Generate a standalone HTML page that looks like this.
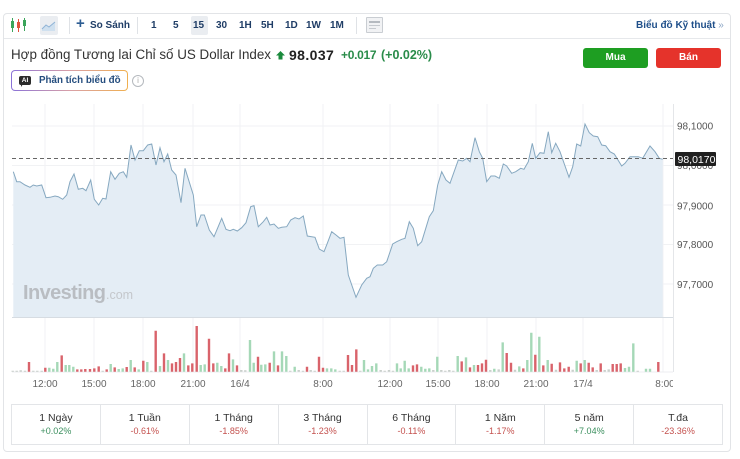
<!DOCTYPE html>
<html><head><meta charset="utf-8">
<style>
*{margin:0;padding:0;box-sizing:border-box}
body{width:740px;height:459px;background:#fff;position:relative;overflow:hidden;font-family:"Liberation Sans","Noto Sans CJK SC",sans-serif;color:#333}
.abs{position:absolute;white-space:nowrap}
.card{position:absolute;left:3px;top:13px;width:728px;height:439px;border:1px solid #e2e4e7;border-radius:4px}
.tb{font-weight:bold;font-size:10px;color:#1f3d66;top:20px}
.sep{position:absolute;width:1px;height:17px;top:17px;background:#dfe2e6}
.btn{position:absolute;top:48px;width:65px;height:20px;border-radius:3px;color:#fff;font-weight:bold;font-size:10px;text-align:center;line-height:20px}
.perf{position:absolute;left:11px;top:404px;width:712px;height:41px;border:1px solid #e3e5e8;display:flex}
.perf div{flex:1;border-left:1px solid #e3e5e8;text-align:center}
.perf div:first-child{border-left:none}
.perf b{display:block;font-weight:normal;font-size:10.5px;color:#333;margin-top:7px;line-height:12px}
.perf i{display:block;font-style:normal;font-size:9px;margin-top:2px;line-height:11px}
.g{color:#3b8f5e}.r{color:#c4514e}
</style></head><body>
<div class="card"></div>
<div class="abs" style="left:4px;top:38px;width:726px;height:1px;background:#e6e8eb"></div>

<!-- toolbar -->
<svg class="abs" style="left:10px;top:16px" width="18" height="18" viewBox="0 0 18 18">
<line x1="2.5" y1="2" x2="2.5" y2="16" stroke="#3aa55a" stroke-width="1"/><rect x="1" y="5" width="3" height="7" fill="#3aa55a"/>
<line x1="8.5" y1="3" x2="8.5" y2="16" stroke="#e0533d" stroke-width="1"/><rect x="7" y="6" width="3" height="6" fill="#e0533d"/>
<line x1="14.5" y1="2" x2="14.5" y2="15" stroke="#3aa55a" stroke-width="1"/><rect x="13" y="4" width="3" height="6" fill="#3aa55a"/>
</svg>
<div class="abs" style="left:40px;top:16px;width:18px;height:19px;background:#eaedf1;border-radius:2px"></div>
<svg class="abs" style="left:41px;top:18px" width="16" height="15" viewBox="0 0 16 15"><path d="M1,11 L5,7 L8,9 L14,4 L14,13 L1,13Z" fill="#cfe0ef"/><path d="M1,11 L5,7 L8,9 L14,4" fill="none" stroke="#8fb3d6" stroke-width="1"/></svg>
<div class="sep" style="left:69px"></div>
<div class="abs" style="left:76px;top:15px;font-size:15px;font-weight:bold;color:#2d5d93;line-height:18px">+</div>
<div class="abs tb" style="left:90px">So Sánh</div>
<div class="sep" style="left:137px"></div>
<div class="abs tb" style="left:151px">1</div>
<div class="abs tb" style="left:173px">5</div>
<div class="abs" style="left:191px;top:16px;width:17px;height:19px;background:#eaedf1;border-radius:2px"></div>
<div class="abs tb" style="left:193px">15</div>
<div class="abs tb" style="left:216px">30</div>
<div class="abs tb" style="left:239px">1H</div>
<div class="abs tb" style="left:261px">5H</div>
<div class="abs tb" style="left:285px">1D</div>
<div class="abs tb" style="left:306px">1W</div>
<div class="abs tb" style="left:330px">1M</div>
<div class="sep" style="left:356px"></div>
<div class="abs" style="left:366px;top:17px;width:17px;height:16px;border:1px solid #c9cdd2;background:#f1f2f4;border-radius:1px"></div>
<div class="abs" style="left:369px;top:21px;width:11px;height:2px;background:#b5bac0"></div>
<div class="abs" style="left:369px;top:25px;width:11px;height:1px;background:#c5c9ce"></div>
<div class="abs" style="left:369px;top:28px;width:7px;height:1px;background:#c5c9ce"></div>
<div class="abs" style="left:636px;top:20px;font-size:10px;font-weight:bold;color:#1f4f8a">Biểu đồ Kỹ thuật <span style="color:#8aa4c4;font-weight:normal">»</span></div>

<!-- title -->
<div class="abs" style="left:11px;top:47px;font-size:13.4px;color:#333;line-height:16px">Hợp đồng Tương lai Chỉ số US Dollar Index</div>
<svg class="abs" style="left:276px;top:51px" width="9" height="9" viewBox="0 0 9 9"><path d="M4.5,0 L9,4.5 L6.5,4.5 L6.5,8.5 L2.5,8.5 L2.5,4.5 L0,4.5Z" fill="#1a8a3c"/></svg>
<div class="abs" style="left:289px;top:47px;font-size:14px;font-weight:bold;color:#222;line-height:16px;letter-spacing:0.4px">98.037</div>
<div class="abs" style="left:341px;top:48px;font-size:12px;font-weight:bold;color:#2a8c4a;line-height:15px;letter-spacing:-0.3px">+0.017</div>
<div class="abs" style="left:381px;top:48px;font-size:12.5px;font-weight:bold;color:#2a8c4a;line-height:15px">(+0.02%)</div>
<div class="btn" style="left:583px;background:#1e9e22">Mua</div>
<div class="btn" style="left:656px;background:#e5332b">Bán</div>

<!-- AI button -->
<div class="abs" style="left:11px;top:70px;width:117px;height:21px;border:1px solid transparent;border-radius:4px;background:linear-gradient(#fff,#fff) padding-box,linear-gradient(90deg,#8a72d8,#d8a0a8,#f0b050) border-box"></div>
<div class="abs" style="left:19px;top:76px;width:12px;height:9px;background:#2b2b2b;border-radius:2px;color:#fff;font-size:6.5px;font-weight:bold;text-align:center;line-height:9px">AI</div>
<div class="abs" style="left:21px;top:84px;width:0;height:0;border-left:2px solid #2b2b2b;border-bottom:3px solid transparent"></div>
<div class="abs" style="left:39px;top:75px;font-size:9.8px;font-weight:bold;color:#244d7e;line-height:12px">Phân tích biểu đồ</div>
<div class="abs" style="left:132px;top:75px;width:12px;height:12px;border:1px solid #b5b9be;border-radius:50%;color:#aaa;font-size:8px;text-align:center;line-height:10px">i</div>

<!-- chart -->
<svg class="abs" style="left:0;top:0" width="740" height="459" viewBox="0 0 740 459">
<g stroke="#f1f2f4" stroke-width="1">
<line x1="12" y1="126" x2="673" y2="126"/><line x1="12" y1="165.5" x2="673" y2="165.5"/><line x1="12" y1="205" x2="673" y2="205"/><line x1="12" y1="244.5" x2="673" y2="244.5"/><line x1="12" y1="284" x2="673" y2="284"/>
<line x1="45" y1="104" x2="45" y2="372"/><line x1="94" y1="104" x2="94" y2="372"/><line x1="143" y1="104" x2="143" y2="372"/><line x1="193" y1="104" x2="193" y2="372"/><line x1="240" y1="104" x2="240" y2="372"/><line x1="323" y1="104" x2="323" y2="372"/><line x1="390" y1="104" x2="390" y2="372"/><line x1="438" y1="104" x2="438" y2="372"/><line x1="487" y1="104" x2="487" y2="372"/><line x1="536" y1="104" x2="536" y2="372"/><line x1="583" y1="104" x2="583" y2="372"/><line x1="663" y1="104" x2="663" y2="372"/>
</g>
<path d="M13.3,317 L13.3,171.7 16.7,181.7 20,181.7 25,185 30,187.3 33.3,185 36.7,186 41.7,185 46,197.7 50,197.3 55,196 58.3,196.7 62.7,199.3 66.7,195 70,181.7 74,174 78.3,189.3 82.7,188.3 86,190.7 90.7,180 94.3,199.3 98.7,205 102.7,198.3 106,199 110.7,171.7 115,179.3 119.3,173.3 123.3,171.7 126.7,177.3 131,145 135,160 139.3,150.7 143.3,150.7 147.7,145 151.7,144 156,165 160,147.7 164,161.7 167.7,154 171.7,170 176,175 181,202.7 185,168.3 193.3,195 196.7,226.7 201,215 204.3,215 209.3,230 214,236.7 221.7,218.3 226,229.3 230,230.7 233.3,229.3 237.3,231 241.7,227.7 246,222.7 250.7,206.7 254,205.7 258.3,226.7 263.3,221.7 266.7,217.3 270,225 274,224 278.3,228.3 281.7,227.3 286.7,226.7 290.7,220 295,217.7 299,219 303.3,216 307.3,236 311.7,236.7 315,237.3 319.3,249 324,251.7 327.3,243.3 331.7,231.7 336,235 340,238.3 344,237.3 348.3,275 356,297.3 361.7,285 366.7,278.3 370,276.7 373.3,268.3 377.3,265 382.7,265 386.7,261.7 392.7,244 396.7,241.7 401.7,239.3 405,238.3 409.3,221.7 413.3,228.3 417.7,245.7 421.7,241.7 429.3,216.7 433.3,210.7 437.7,185 441.7,171.7 446,180 450,183.3 458.3,160 462.7,161 466.7,158.3 470,161.7 475,137.7 479.3,151.7 482.7,158.3 486.7,181.7 491,176 495,176 499.3,178.3 503.3,164 506.7,166 511.7,173.3 515.7,171.7 520.7,168.3 524,169.3 528.3,161.7 532.3,143.3 535.7,158.3 540,152.7 544,153.3 548.3,131.7 551.7,152.7 555.7,143.3 560,151.7 569,177.3 572.7,166.7 576.7,144 580.7,146 585,124 589.3,132.7 593.3,136 597.7,136.7 601.7,145 605.7,145.7 610,151.7 614.3,154 621.7,166 625,163.3 630,156.7 638.3,156.7 642.7,158.3 650,146 655,151.7 659.3,158.3 662.7,159.3 L662.7,317 Z" fill="#e4edf5"/>
<path d="M13.3,171.7 16.7,181.7 20,181.7 25,185 30,187.3 33.3,185 36.7,186 41.7,185 46,197.7 50,197.3 55,196 58.3,196.7 62.7,199.3 66.7,195 70,181.7 74,174 78.3,189.3 82.7,188.3 86,190.7 90.7,180 94.3,199.3 98.7,205 102.7,198.3 106,199 110.7,171.7 115,179.3 119.3,173.3 123.3,171.7 126.7,177.3 131,145 135,160 139.3,150.7 143.3,150.7 147.7,145 151.7,144 156,165 160,147.7 164,161.7 167.7,154 171.7,170 176,175 181,202.7 185,168.3 193.3,195 196.7,226.7 201,215 204.3,215 209.3,230 214,236.7 221.7,218.3 226,229.3 230,230.7 233.3,229.3 237.3,231 241.7,227.7 246,222.7 250.7,206.7 254,205.7 258.3,226.7 263.3,221.7 266.7,217.3 270,225 274,224 278.3,228.3 281.7,227.3 286.7,226.7 290.7,220 295,217.7 299,219 303.3,216 307.3,236 311.7,236.7 315,237.3 319.3,249 324,251.7 327.3,243.3 331.7,231.7 336,235 340,238.3 344,237.3 348.3,275 356,297.3 361.7,285 366.7,278.3 370,276.7 373.3,268.3 377.3,265 382.7,265 386.7,261.7 392.7,244 396.7,241.7 401.7,239.3 405,238.3 409.3,221.7 413.3,228.3 417.7,245.7 421.7,241.7 429.3,216.7 433.3,210.7 437.7,185 441.7,171.7 446,180 450,183.3 458.3,160 462.7,161 466.7,158.3 470,161.7 475,137.7 479.3,151.7 482.7,158.3 486.7,181.7 491,176 495,176 499.3,178.3 503.3,164 506.7,166 511.7,173.3 515.7,171.7 520.7,168.3 524,169.3 528.3,161.7 532.3,143.3 535.7,158.3 540,152.7 544,153.3 548.3,131.7 551.7,152.7 555.7,143.3 560,151.7 569,177.3 572.7,166.7 576.7,144 580.7,146 585,124 589.3,132.7 593.3,136 597.7,136.7 601.7,145 605.7,145.7 610,151.7 614.3,154 621.7,166 625,163.3 630,156.7 638.3,156.7 642.7,158.3 650,146 655,151.7 659.3,158.3 662.7,159.3" fill="none" stroke="#86a8c0" stroke-width="1"/>
<line x1="12" y1="317.5" x2="673" y2="317.5" stroke="#d6dce2" stroke-width="1"/>
<line x1="12" y1="372" x2="673" y2="372" stroke="#eceef0" stroke-width="1"/>
<line x1="673.5" y1="104" x2="673.5" y2="372" stroke="#e4e6e9" stroke-width="1"/>
<line x1="12" y1="158.5" x2="673" y2="158.5" stroke="#666" stroke-width="1" stroke-dasharray="4,3"/>
<text x="23" y="299" font-family="Liberation Sans, sans-serif" font-size="20" font-weight="bold" fill="#b9bdc2" letter-spacing="-0.6">Investing</text>
<text x="106" y="299" font-family="Liberation Sans, sans-serif" font-size="12.5" fill="#c4c7cb">.com</text>

<g transform="matrix(1 0 0 -1 0 371.7)" stroke-width="2.4" fill="none">
<path stroke="#d9636b" d="M29 0v9.7M45.3 0v4M61.7 0v16.3M77.3 0v2.3M81.3 0v2.3M85.3 0v2.7M90 0v2.7M94.3 0v3.3M98.7 0v5.3M106.7 0v2.3M114.7 0v4.3M126.7 0v4.7M134.7 0v4.3M143.3 0v11M155.7 0v41M164 0v18.3M172 0v8.3M176 0v9.7M180 0v13.7M188.3 0v6.3M192.3 0v8.3M196.7 0v45.7M209 0v33M213.3 0v8.3M225.3 0v3.3M229 0v18.3M237 0v6.3M258 0v15M269.7 0v9M278 0v6.3M307 0v5M319 0v15M323 0v4M348 0v16.7M352 0v6.7M356.3 0v22.3M413 0v6.3M417 0v7.3M461.7 0v10.3M470 0v4.3M478 0v6.7M482 0v8.3M486 0v12M506.7 0v18.7M511 0v9M523.3 0v3.3M535.3 0v17M543.3 0v6.3M551.7 0v8M560 0v9.3M564.3 0v3.3M568.7 0v5M580.7 0v8.3M588.7 0v9M592.7 0v4.3M600.7 0v8.3M612.7 0v7.7M616.7 0v7.7M620.7 0v8.3M658.3 0v9.7"/>
<path stroke="#a5d8b7" d="M49.3 0v4M53.3 0v3M57.3 0v9.7M65.7 0v6.7M69.3 0v6.7M73.3 0v5M110.7 0v7.7M118.7 0v2.7M122.7 0v3.3M130.7 0v11.7M138.7 0v2.3M147.3 0v9.7M160 0v5.7M168 0v11.7M184 0v18.3M200.7 0v6.7M204.7 0v7.3M217.3 0v9M221.3 0v5.7M233 0v12.3M250 0v31.7M253.7 0v9M261.3 0v7M265.3 0v7.3M274 0v20.3M282 0v20.3M286.3 0v15.7M294.7 0v5M327 0v3.3M331.3 0v3.3M335.3 0v2.3M364 0v11.7M368 0v2.3M372 0v5.7M376.3 0v8.3M397 0v8.3M400.7 0v3.3M404.7 0v11M408.7 0v3.3M421.3 0v5M425.3 0v3M429.3 0v3.3M437.3 0v15M457.7 0v15.7M466 0v14.3M474 0v6.7M494.3 0v3M502.7 0v29.3M519.3 0v5.3M527.3 0v11.7M531.3 0v39M539.3 0v35M547.7 0v11.7M576.7 0v11M584.7 0v11.7M625 0v3.7M629 0v5M633.3 0v28.3M646 0v3M650 0v3"/>
<path stroke="#c9cfcb" d="M12.7 0v1M16.7 0v1M20.7 0v1.5M25 0v1M33.3 0v1M37.3 0v1M41.7 0v1M102.7 0v1M151.3 0v1M241.3 0v1.7M245.3 0v1.5M290.3 0v1M298.7 0v1.7M303 0v1M310.7 0v1.7M314.7 0v1M339.7 0v1M343.7 0v1M360.3 0v1M380.7 0v1.7M384.7 0v1M389 0v1.7M393 0v1M433.3 0v1.7M441.3 0v1.7M445.3 0v1M449.3 0v1.7M453.3 0v1M490.3 0v1.7M498.7 0v2.3M515 0v2M556 0v2M572.7 0v2M596.7 0v1.7M604.7 0v1.7M608.7 0v2.3M637.7 0v1"/>
</g>

<g font-family="Liberation Sans, sans-serif" font-size="10" fill="#555">
<text x="677" y="129.5">98,1000</text>
<text x="677" y="169">98,0000</text>
<text x="677" y="209.5">97,9000</text>
<text x="677" y="248">97,8000</text>
<text x="677" y="288">97,7000</text>
</g>
<rect x="675" y="152" width="41" height="14" rx="1" fill="#1f1f1f"/>
<text x="677.5" y="163" font-family="Liberation Sans, sans-serif" font-size="10.5" fill="#fff">98,0170</text>

<g font-family="Liberation Sans, sans-serif" font-size="10" fill="#666" text-anchor="middle">
<text x="45" y="387">12:00</text><text x="94" y="387">15:00</text><text x="143" y="387">18:00</text><text x="193" y="387">21:00</text><text x="240" y="387">16/4</text><text x="323" y="387">8:00</text><text x="390" y="387">12:00</text><text x="438" y="387">15:00</text><text x="487" y="387">18:00</text><text x="536" y="387">21:00</text><text x="583" y="387">17/4</text>
</g>
<svg x="0" y="0" width="673" height="459"><text x="665" y="387" font-family="Liberation Sans, sans-serif" font-size="10" fill="#666" text-anchor="middle">8:00</text></svg>
</svg>

<!-- performance -->
<div class="perf">
<div><b>1 Ngày</b><i class="g">+0.02%</i></div>
<div><b>1 Tuần</b><i class="r">-0.61%</i></div>
<div><b>1 Tháng</b><i class="r">-1.85%</i></div>
<div><b>3 Tháng</b><i class="r">-1.23%</i></div>
<div><b>6 Tháng</b><i class="r">-0.11%</i></div>
<div><b>1 Năm</b><i class="r">-1.17%</i></div>
<div><b>5 năm</b><i class="g">+7.04%</i></div>
<div><b>T.đa</b><i class="r">-23.36%</i></div>
</div>
</body></html>
